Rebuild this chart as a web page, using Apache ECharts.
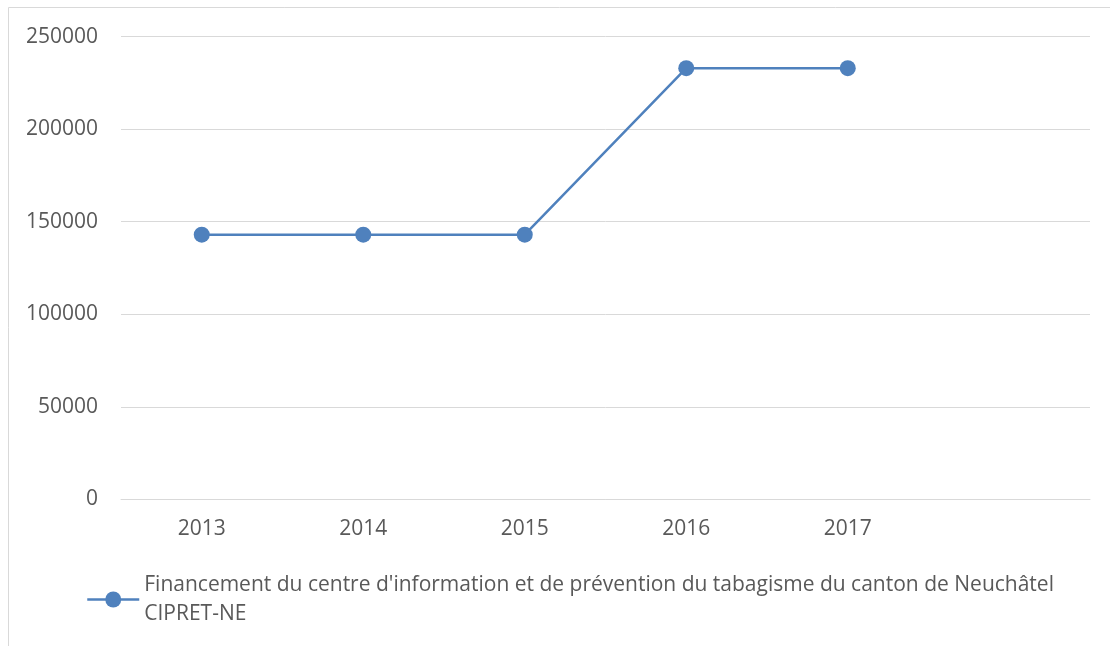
<!DOCTYPE html>
<html><head><meta charset="utf-8">
<script src="https://cdn.jsdelivr.net/npm/echarts@6/dist/echarts.min.js"></script>
<style>html,body{margin:0;padding:0;background:#fff}#c{width:1110px;height:646px}</style>
</head><body><div id="c"></div>
<script>
const categories = ['2013','2014','2015','2016','2017',''];
const seriesName = "Financement du centre d'information et de prévention du tabagisme du canton de Neuchâtel CIPRET-NE";
const values = [143000, 143000, 143000, 233000, 233000, null];
const yTicks = {min: 0, max: 250000, interval: 50000};

const chart = echarts.init(document.getElementById('c'));
const font = 'Open Sans';
chart.setOption({
  animation: false,
  graphic: [{type:'rect', shape:{x:8.5,y:7.5,width:1200,height:700}, style:{fill:'none', stroke:'#d9d9d9', lineWidth:1}, silent:true}],
  grid: {left:121, right:20, top:36.7, bottom:146.7, containLabel:false},
  legend: {
    left: 86, top: 556, padding: 0,
    itemWidth: 52, itemHeight: 20, itemGap: 10,
    formatter: function(n){ return n.replace(' CIPRET-NE', '\nCIPRET-NE'); },
    lineStyle: {width: 2.5, color:'#4f81bd'},
    textStyle: {fontFamily: font, fontSize: 21, color:'#595959', lineHeight: 29, padding:[29,0,0,0]},
    data: [seriesName]
  },
  xAxis: {
    type:'category', data: categories, boundaryGap: true,
    axisLine:{lineStyle:{color:'#d9d9d9', width:1}},
    axisTick:{show:false},
    axisLabel:{fontFamily:font, fontSize:21, color:'#595959', margin:19}
  },
  yAxis: {
    type:'value', min: yTicks.min, max: yTicks.max, interval: yTicks.interval,
    axisLine:{show:false}, axisTick:{show:false},
    splitLine:{lineStyle:{color:'#d9d9d9', width:1}},
    axisLabel:{fontFamily:font, fontSize:21, color:'#595959', margin:23, formatter: function(v){ return String(v); }}
  },
  series: [{
    name: seriesName, type:'line', data: values,
    symbol:'circle', symbolSize:16,
    lineStyle:{color:'#4f81bd', width:2.5},
    itemStyle:{color:'#4f81bd'}
  }]
});
</script></body></html>
